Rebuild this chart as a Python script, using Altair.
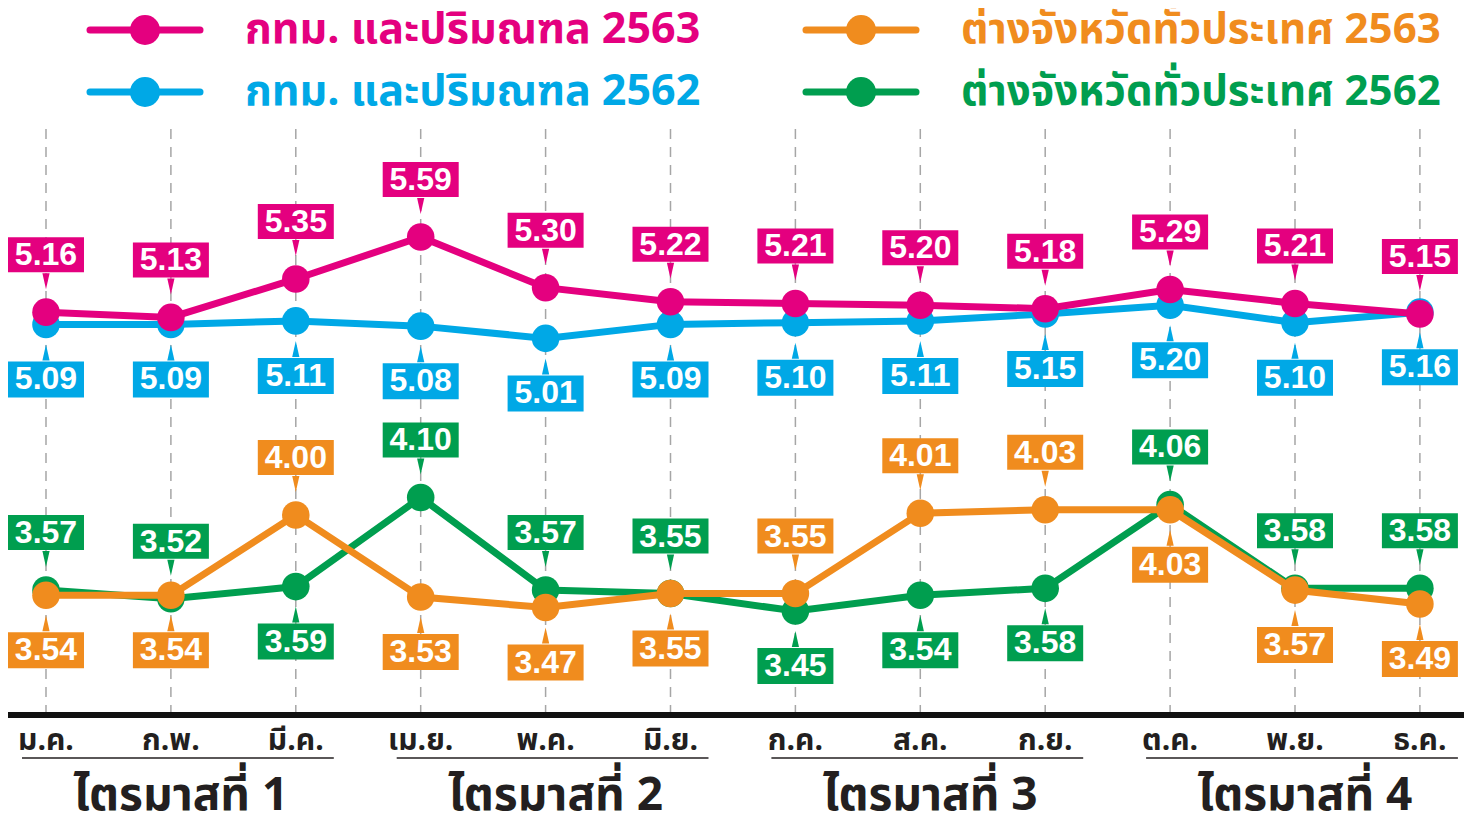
import altair as alt
import pandas as pd

# ---------------- data ----------------
months = ["ม.ค.", "ก.พ.", "มี.ค.", "เม.ย.", "พ.ค.", "มิ.ย.",
          "ก.ค.", "ส.ค.", "ก.ย.", "ต.ค.", "พ.ย.", "ธ.ค."]
quarters = ["ไตรมาสที่ 1", "ไตรมาสที่ 2", "ไตรมาสที่ 3", "ไตรมาสที่ 4"]

series = ["กทม. และปริมณฑล 2563", "กทม. และปริมณฑล 2562",
          "ต่างจังหวัดทั่วประเทศ 2563", "ต่างจังหวัดทั่วประเทศ 2562"]
colors = ["#E4007F", "#00A8E6", "#F08C1E", "#009E4F"]

bkk_2563 = [5.16, 5.13, 5.35, 5.59, 5.30, 5.22, 5.21, 5.20, 5.18, 5.29, 5.21, 5.15]
bkk_2562 = [5.09, 5.09, 5.11, 5.08, 5.01, 5.09, 5.10, 5.11, 5.15, 5.20, 5.10, 5.16]
prov_2563 = [3.54, 3.54, 4.00, 3.53, 3.47, 3.55, 3.55, 4.01, 4.03, 4.03, 3.57, 3.49]
prov_2562 = [3.57, 3.52, 3.59, 4.10, 3.57, 3.55, 3.45, 3.54, 3.58, 4.06, 3.58, 3.58]

bkk_2563_pos = ["above"] * 12
bkk_2562_pos = ["below"] * 12
prov_2563_pos = ["below", "below", "above", "below", "below", "below",
                 "above", "above", "above", "below", "below", "below"]
prov_2562_pos = ["above", "above", "below", "above", "above", "above",
                 "below", "below", "below", "above", "above", "above"]

values = [bkk_2563, bkk_2562, prov_2563, prov_2562]
positions = [bkk_2563_pos, bkk_2562_pos, prov_2563_pos, prov_2562_pos]

# ---------------- tables ----------------
rows = []
for s, vals, poss in zip(series, values, positions):
    for i, (v, p) in enumerate(zip(vals, poss)):
        rows.append({"s": s, "m": i, "v": v, "pos": p})
df = pd.DataFrame(rows)
mdf = pd.DataFrame({"m": list(range(12)), "name": months})
qdf = pd.DataFrame({"q": quarters, "a": [0, 3, 6, 9], "mid": [1, 4, 7, 10], "b": [2, 5, 8, 11]})

THAI = "Noto Sans Thai, Noto Sans Thai UI, Noto Sans, sans-serif"
NUM = "Liberation Sans, Arial, sans-serif"

W, H = 1456, 806
xs = alt.Scale(domain=[-0.3042, (W - 38) / 124.9], nice=False, zero=False)
ys = alt.Scale(domain=[5.59 - (H - 229) / 174.8, 6.900], nice=False, zero=False)
cs = alt.Scale(domain=series, range=colors)

X = alt.X("m:Q", scale=xs, axis=None)
Y = alt.Y("v:Q", scale=ys, axis=None)
C = alt.Color("s:N", scale=cs, legend=None)

base = alt.Chart(df)

grid = alt.Chart(mdf).mark_rule(color="#A6A6A6", strokeWidth=1.5, strokeDash=[10, 8]).encode(
    x=alt.X("m:Q", scale=xs, axis=None), y=alt.value(121), y2=alt.value(707))

axisline = alt.Chart(mdf).mark_rule(color="#111111", strokeWidth=5).encode(
    x=alt.value(0), x2=alt.value(W), y=alt.value(707))

layers = [grid, axisline]

draw_order = [3, 2, 1, 0]
for k in draw_order:
    s = series[k]
    sub = base.transform_filter(alt.datum.s == s)
    layers.append(sub.mark_line(strokeWidth=7).encode(x=X, y=Y, color=C))
    layers.append(sub.mark_circle(size=760, opacity=1).encode(x=X, y=Y, color=C))

up_shape = "M -0.45 -1 L 0.45 -1 L 0 1 Z"
down_shape = "M -0.45 1 L 0.45 1 L 0 -1 Z"
for k in draw_order:
    s = series[k]
    for pos, bo, b2, so, shp, to in [("above", -75, -40, -31, up_shape, -57),
                                      ("below", 37, 73, 28, down_shape, 55)]:
        sub = base.transform_filter((alt.datum.s == s) & (alt.datum.pos == pos))
        layers.append(sub.mark_rect(xOffset=-38, x2Offset=38, yOffset=bo, y2Offset=b2).encode(
            x=X, x2="m:Q", y=Y, y2="v:Q", color=C))
        layers.append(sub.mark_point(shape=shp, size=256, filled=True, opacity=1, yOffset=so).encode(
            x=X, y=Y, color=C))
        layers.append(sub.mark_text(yOffset=to, font=NUM, fontSize=32, fontWeight="bold",
                                    color="white", baseline="middle").encode(
            x=X, y=Y, text=alt.Text("v:Q", format=".2f")))

# month labels
layers.append(alt.Chart(mdf).mark_text(font=THAI, fontSize=30, fontWeight="bold", color="#231F20",
                                        baseline="middle").encode(
    x=alt.X("m:Q", scale=xs, axis=None), y=alt.value(733), text="name:N"))
# quarter underline
layers.append(alt.Chart(qdf).mark_rule(color="#231F20", strokeWidth=1.5, xOffset=-24, x2Offset=38).encode(
    x=alt.X("a:Q", scale=xs, axis=None), x2="b:Q", y=alt.value(750)))
layers.append(alt.Chart(qdf).mark_text(font=THAI, fontSize=46, fontWeight="bold", color="#231F20",
                                        baseline="alphabetic", dx=10).encode(
    x=alt.X("mid:Q", scale=xs, axis=None), y=alt.value(802), text="q:N"))

# legend
ldf = pd.DataFrame({"s": series})
leg_pos = [(82, 22, 43), (82, 84, 43), (798, 22, 42), (798, 84, 42)]
for k, (lx, ly, fs) in enumerate(leg_pos):
    one = alt.Chart(ldf).transform_filter(alt.datum.s == series[k])
    layers.append(one.mark_rule(strokeWidth=7, strokeCap="round").encode(
        x=alt.value(lx), x2=alt.value(lx + 110), y=alt.value(ly), color=C))
    layers.append(one.mark_circle(size=900, opacity=1).encode(
        x=alt.value(lx + 55), y=alt.value(ly), color=C))
    layers.append(one.mark_text(font=THAI, fontSize=fs, fontWeight="bold", align="left",
                                baseline="middle").encode(
        x=alt.value(lx + 155), y=alt.value(ly), text="s:N", color=C))

chart = alt.layer(*layers).properties(
    width=W, height=H, autosize=alt.AutoSizeParams(type="none"), padding=0
).configure_view(stroke=None)

chart.save("out.html", embed_options={"renderer": "svg", "actions": False})
